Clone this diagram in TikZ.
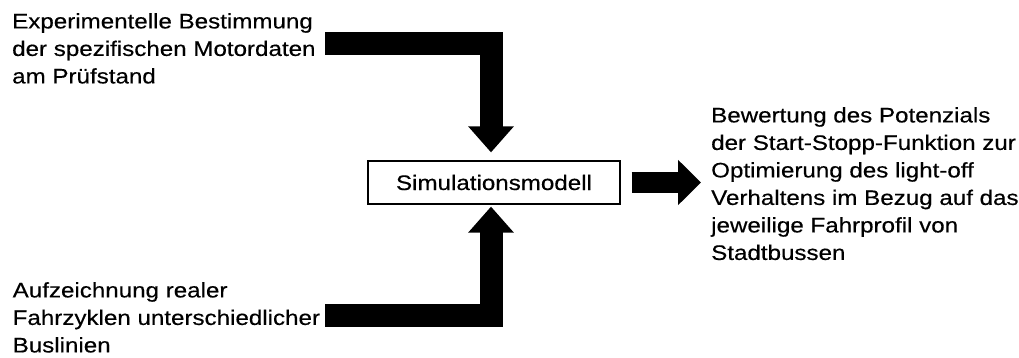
\documentclass[tikz,border=0pt]{standalone}
\usepackage{fontspec}
\setmainfont[FakeStretch=1.15,FakeBold=0.4]{Liberation Sans}
\usetikzlibrary{arrows.meta,positioning}

\begin{document}
\begin{tikzpicture}[x=1pt,y=-1pt,
  txt/.style={align=left,inner sep=0pt,anchor=north west,
    font=\fontsize{21}{27.5}\selectfont},
  modell/.style={draw,line width=1.2pt,minimum width=252pt,minimum height=43pt,
    inner sep=0pt,font=\fontsize{21}{27.5}\selectfont},
  blockarrow/.style={line width=23pt,line join=miter,
    -{Triangle[width=44pt,length=26pt]}}]
  \useasboundingbox (0,0) rectangle (1019,358);

  \node[txt] (pruef) at (12,13) {Experimentelle Bestimmung\\der spezifischen Motordaten\\am Pr\"ufstand};
  \node[txt] (fahrt) at (12.5,282) {Aufzeichnung realer\\Fahrzyklen unterschiedlicher\\Buslinien};
  \node[modell] (sim) at (494,182.5) {Simulationsmodell};
  \node[txt] (bewert) at (711,107) {Bewertung des Potenzials\\der Start-Stopp-Funktion zur\\Optimierung des light-off\\Verhaltens im Bezug auf das\\jeweilige Fahrprofil von\\Stadtbussen};

  \coordinate (oben) at (325,43.5);
  \coordinate (unten) at (325,315.5);

  \draw[blockarrow,shorten >=8pt] (oben) -| ([xshift=-3pt]sim.north);
  \draw[blockarrow,shorten >=2pt] (unten) -| ([xshift=-3pt]sim.south);
  \draw[blockarrow,line width=20pt,-{Triangle[width=44pt,length=23pt]},
    shorten <=11pt,shorten >=10pt] (sim.east) -- (sim.east -| bewert.west);
\end{tikzpicture}
\end{document}
